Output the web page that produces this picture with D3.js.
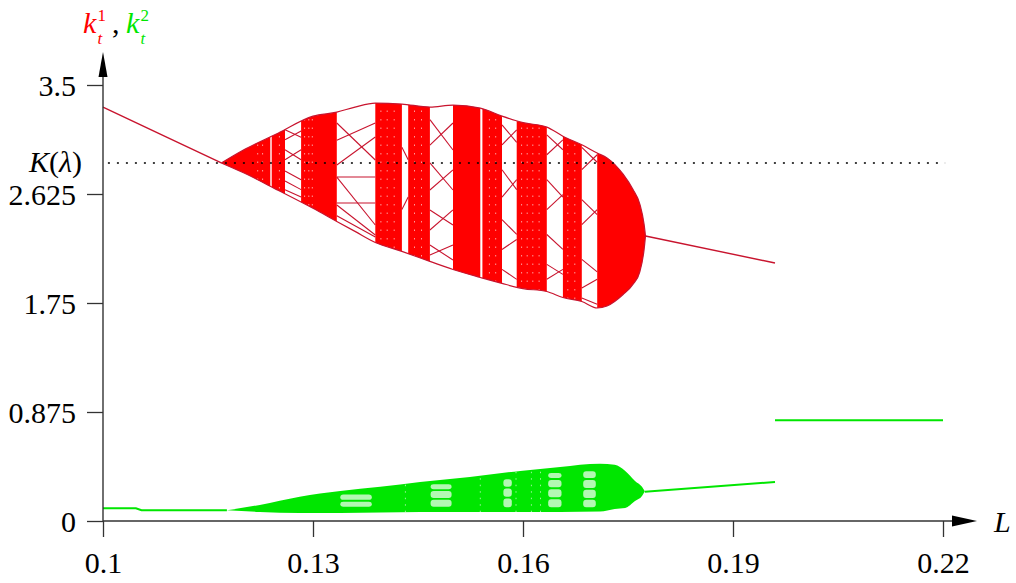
<!DOCTYPE html>
<html><head><meta charset="utf-8">
<script src="https://cdn.jsdelivr.net/npm/d3@7"></script>
<style>
html,body{margin:0;padding:0;background:#fff;}
svg{display:block;}
text{font-family:"Liberation Serif","Times New Roman",serif;}
</style>
</head><body>
<svg id="c" width="1016" height="583"></svg>
<script>
// ---------- data ----------
const xTicks = [0.1, 0.13, 0.16, 0.19, 0.22];
const xTickLabels = ["0.1", "0.13", "0.16", "0.19", "0.22"];
const yTicks = [0, 0.875, 1.75, 2.625, 3.5];
const yTickLabels = ["0", "0.875", "1.75", "2.625", "3.5"];
const K_lambda = 2.874;

// red (k_t^1) stable branches
const redLeftL = [0.1, 0.1081, 0.1169];
const redLeftK = [3.323, 3.107, 2.874];
const redRightL = [0.1775, 0.196];
const redRightK = [2.288, 2.071];

// red chaotic region envelope
const envL     = [0.1169,0.1200,0.1250,0.1300,0.1334,0.1360,0.1389,0.1427,0.1467,0.1500,0.1539,0.1570,0.1600,0.1634,0.1657,0.1684,0.1706,0.1720,0.1743,0.1757,0.1767,0.1773,0.1775];
const envUpper = [2.874,2.976,3.113,3.250,3.282,3.323,3.355,3.347,3.323,3.339,3.315,3.250,3.198,3.162,3.089,3.020,2.954,2.915,2.784,2.663,2.542,2.381,2.288];
const envLower = [2.874,2.797,2.655,2.510,2.405,2.325,2.236,2.164,2.084,2.019,1.955,1.907,1.866,1.842,1.794,1.762,1.710,1.726,1.818,1.899,2.003,2.180,2.288];

// dense (chaotic) bands of L
const bandStart = [0.1169,0.1241,0.1283,0.1389,0.1436,0.1500,0.1542,0.1591,0.1657,0.1706];
const bandEnd   = [0.1239,0.1260,0.1334,0.1427,0.1467,0.1539,0.1570,0.1634,0.1684,0.1775];

// white dotted columns inside bands
const speckleL = [0.1221,0.1228,0.1252,0.1288,0.1294,0.1299,0.1397,0.1406,0.1416,0.1445,0.1455,0.1552,0.1561,0.1598,0.1606,0.1614,0.1623,0.1664,0.1674];

// periodic branches in the windows: [L0, k0, L1, k1]
const redBranches = [
  [0.1260,3.140,0.1283,3.080],[0.1260,3.060,0.1283,3.130],[0.1260,2.980,0.1283,2.900],[0.1260,2.900,0.1283,2.980],
  [0.1260,2.810,0.1283,2.740],[0.1260,2.730,0.1283,2.660],[0.1260,2.660,0.1283,2.600],
  [0.1334,3.195,0.1389,2.898],[0.1334,2.858,0.1389,3.083],[0.1334,3.057,0.1389,3.195],[0.1334,2.761,0.1389,2.761],
  [0.1334,2.553,0.1389,2.553],[0.1334,2.761,0.1389,2.376],[0.1334,2.537,0.1389,2.296],[0.1334,2.450,0.1389,2.280],
  [0.1427,3.000,0.1436,2.900],[0.1427,2.500,0.1436,2.600],
  [0.1467,3.222,0.1500,2.978],[0.1467,3.018,0.1500,3.195],[0.1467,2.874,0.1500,2.657],[0.1467,2.657,0.1500,2.818],
  [0.1467,2.497,0.1500,2.376],[0.1467,2.336,0.1500,2.497],[0.1467,2.216,0.1500,2.095],[0.1467,2.135,0.1500,2.216],
  [0.1570,3.180,0.1591,3.040],[0.1570,3.020,0.1591,3.140],[0.1570,2.820,0.1591,2.660],[0.1570,2.600,0.1591,2.740],
  [0.1570,2.420,0.1591,2.300],[0.1570,2.180,0.1591,2.260],[0.1570,2.020,0.1591,1.940],
  [0.1634,3.100,0.1657,2.980],[0.1634,2.940,0.1657,3.060],[0.1634,2.740,0.1657,2.600],[0.1634,2.500,0.1657,2.620],
  [0.1634,2.300,0.1657,2.180],[0.1634,2.060,0.1657,1.980],[0.1634,1.940,0.1657,2.020],
  [0.1684,3.000,0.1706,2.880],[0.1684,2.820,0.1706,2.940],[0.1684,2.580,0.1706,2.460],[0.1684,2.380,0.1706,2.500],
  [0.1684,2.100,0.1706,2.000],[0.1684,1.870,0.1706,1.940],[0.1684,1.790,0.1706,1.740]
];

// green (k_t^2)
const greenLeftL = [0.1, 0.1047, 0.1055, 0.1177];
const greenLeftK = [0.102, 0.102, 0.086, 0.086];
const greenEnvL  = [0.1177,0.1224,0.1281,0.1339,0.1396,0.1453,0.1524,0.1596,0.1653,0.1710,0.1731,0.1746,0.1760,0.1770,0.1774];
const greenUpper = [0.086,0.129,0.195,0.241,0.274,0.314,0.354,0.402,0.434,0.459,0.451,0.402,0.322,0.274,0.238];
const greenLower = [0.086,0.072,0.064,0.064,0.068,0.072,0.072,0.072,0.072,0.076,0.097,0.105,0.161,0.201,0.238];
const greenRightL = [0.1774, 0.196];
const greenRightK = [0.235, 0.313];
const greenHighL = [0.196, 0.22];
const greenHighK = [0.808, 0.808];
// light windows inside the green region: [L0, L1, k0, k1]
const greenHoles = [
  [0.1339,0.1384,0.115,0.155],[0.1339,0.1384,0.170,0.212],
  [0.1468,0.1498,0.115,0.170],[0.1468,0.1498,0.185,0.240],[0.1468,0.1498,0.255,0.295],
  [0.1572,0.1584,0.110,0.180],[0.1572,0.1584,0.195,0.260],[0.1572,0.1584,0.275,0.335],
  [0.1636,0.1655,0.110,0.175],[0.1636,0.1655,0.190,0.255],[0.1636,0.1655,0.270,0.330],[0.1636,0.1655,0.345,0.385],
  [0.1686,0.1704,0.110,0.170],[0.1686,0.1704,0.185,0.250],[0.1686,0.1704,0.265,0.330],[0.1686,0.1704,0.345,0.400]
];
const greenSpeckleL = [0.1432,0.1539,0.1590,0.1612,0.1625];

// ---------- drawing ----------
const RED = "#ff0000", RED_EDGE = "#c8142e", GREEN = "#00e600", AXIS = "#333";
const FS = 30;
const svg = d3.select("#c");
const x = d3.scaleLinear().domain([0.1, 0.22]).range([103, 943]);
const y = d3.scaleLinear().domain([0, 3.5]).range([521, 85]);
const defs = svg.append("defs");

const env = envL.map((L,i)=>({L, hi: envUpper[i], lo: envLower[i]}));
const area = d3.area().x(d=>x(d.L)).y0(d=>y(d.lo)).y1(d=>y(d.hi)).curve(d3.curveMonotoneX);
const lineHi = d3.line().x(d=>x(d.L)).y(d=>y(d.hi)).curve(d3.curveMonotoneX);
const lineLo = d3.line().x(d=>x(d.L)).y(d=>y(d.lo)).curve(d3.curveMonotoneX);
const line = d3.line().x(d=>x(d[0])).y(d=>y(d[1]));

const bandClip = defs.append("clipPath").attr("id","bandClip");
bandStart.forEach((s,i)=>{
  bandClip.append("rect").attr("x", x(s)).attr("width", x(bandEnd[i]) - x(s)).attr("y", 0).attr("height", 583);
});
defs.append("clipPath").attr("id","envClip").append("path").attr("d", area(env));

svg.append("path").attr("d", area(env)).attr("fill", RED).attr("clip-path","url(#bandClip)");
const sp = svg.append("g").attr("clip-path","url(#envClip)");
speckleL.forEach(L=>{
  sp.append("line").attr("x1", x(L)).attr("x2", x(L)).attr("y1", y(3.5)).attr("y2", y(1.6))
    .attr("stroke","#fff").attr("stroke-width",1).attr("stroke-dasharray","1.5,7").attr("opacity",0.6);
});
svg.append("path").attr("d", lineHi(env)).attr("fill","none").attr("stroke",RED_EDGE).attr("stroke-width",1.2);
svg.append("path").attr("d", lineLo(env)).attr("fill","none").attr("stroke",RED_EDGE).attr("stroke-width",1.2);
svg.append("g").selectAll("path").data(redBranches).join("path")
  .attr("d", d=>line([[d[0],d[1]],[d[2],d[3]]]))
  .attr("fill","none").attr("stroke",RED_EDGE).attr("stroke-width",1.1);
svg.append("path").attr("d", line(redLeftL.map((L,i)=>[L, redLeftK[i]]))).attr("fill","none").attr("stroke",RED_EDGE).attr("stroke-width",1.4);
svg.append("path").attr("d", line(redRightL.map((L,i)=>[L, redRightK[i]]))).attr("fill","none").attr("stroke",RED_EDGE).attr("stroke-width",1.4);

svg.append("line").attr("x1", x(0.1007)).attr("x2", x(0.2203)).attr("y1", y(K_lambda)).attr("y2", y(K_lambda))
  .attr("stroke","#000").attr("stroke-width",1.4).attr("stroke-dasharray","2,7");

const genv = greenEnvL.map((L,i)=>({L, hi: greenUpper[i], lo: greenLower[i]}));
defs.append("clipPath").attr("id","gClip").append("path").attr("d", area(genv));
svg.append("path").attr("d", area(genv)).attr("fill", GREEN);
const gh = svg.append("g").attr("clip-path","url(#gClip)");
gh.selectAll("rect").data(greenHoles).join("rect")
  .attr("x", d=>x(d[0])).attr("width", d=>x(d[1])-x(d[0]))
  .attr("y", d=>y(d[3])).attr("height", d=>y(d[2])-y(d[3]))
  .attr("rx", 3).attr("fill","#ffffff").attr("opacity",0.7);
greenSpeckleL.forEach(L=>{
  gh.append("line").attr("x1", x(L)).attr("x2", x(L)).attr("y1", y(0.5)).attr("y2", y(0))
    .attr("stroke","#fff").attr("stroke-width",1).attr("stroke-dasharray","1.5,5").attr("opacity",0.6);
});
[[greenLeftL,greenLeftK],[greenRightL,greenRightK],[greenHighL,greenHighK]].forEach(([Ls,Ks])=>{
  svg.append("path").attr("d", line(Ls.map((L,i)=>[L, Ks[i]]))).attr("fill","none").attr("stroke",GREEN).attr("stroke-width",2);
});

// ---------- axes ----------
const xAxis = svg.append("g").attr("transform",`translate(0,${y(0)})`)
  .call(d3.axisBottom(x).tickValues(xTicks).tickFormat((d,i)=>xTickLabels[i]).tickSize(16));
xAxis.select(".domain").remove();
xAxis.selectAll("line").attr("stroke",AXIS).attr("stroke-width",1.3);
xAxis.selectAll("text").attr("y",52).attr("dy",null).attr("font-size",FS).attr("fill","#000")
  .attr("font-family",'"Liberation Serif",serif');

const yAxis = svg.append("g").attr("transform",`translate(${x(0.1)},0)`)
  .call(d3.axisLeft(y).tickValues(yTicks).tickFormat((d,i)=>yTickLabels[i]).tickSize(16));
yAxis.select(".domain").remove();
yAxis.selectAll("line").attr("stroke",AXIS).attr("stroke-width",1.3);
yAxis.selectAll("text").attr("x",-27).attr("dy","0.34em").attr("font-size",FS).attr("fill","#000")
  .attr("font-family",'"Liberation Serif",serif');

const x0 = x(0.1), y0 = y(0);
svg.append("line").attr("x1",x0).attr("x2",x0).attr("y1",y0).attr("y2",62).attr("stroke",AXIS).attr("stroke-width",1.4);
svg.append("path").attr("d",`M${x0},52 L${x0-4.5},77 L${x0+4.5},77 Z`).attr("fill","#000");
svg.append("line").attr("x1",x0).attr("x2",965).attr("y1",y0).attr("y2",y0).attr("stroke",AXIS).attr("stroke-width",1.4);
svg.append("path").attr("d",`M977,${y0} L952,${y0-5.5} L952,${y0+5.5} Z`).attr("fill","#000");

svg.append("text").attr("x",994).attr("y",532).attr("font-size",FS).attr("font-style","italic").text("L");
const t = svg.append("g");
t.append("text").attr("x",83).attr("y",33).attr("font-size",FS).attr("font-style","italic").attr("fill",RED).text("k");
t.append("text").attr("x",97.5).attr("y",21).attr("font-size",17).attr("fill",RED).text("1");
t.append("text").attr("x",97.5).attr("y",44).attr("font-size",17).attr("font-style","italic").attr("fill",RED).text("t");
t.append("text").attr("x",112).attr("y",33).attr("font-size",FS).attr("fill","#000").text(",");
t.append("text").attr("x",126).attr("y",33).attr("font-size",FS).attr("font-style","italic").attr("fill",GREEN).text("k");
t.append("text").attr("x",140.5).attr("y",21).attr("font-size",17).attr("fill",GREEN).text("2");
t.append("text").attr("x",140.5).attr("y",44).attr("font-size",17).attr("font-style","italic").attr("fill",GREEN).text("t");

const kl = svg.append("text").attr("x",82).attr("y",172).attr("font-size",FS).attr("text-anchor","end");
kl.append("tspan").attr("font-style","italic").text("K");
kl.append("tspan").text("(");
kl.append("tspan").attr("font-style","italic").text("λ");
kl.append("tspan").text(")");
</script>
</body></html>
